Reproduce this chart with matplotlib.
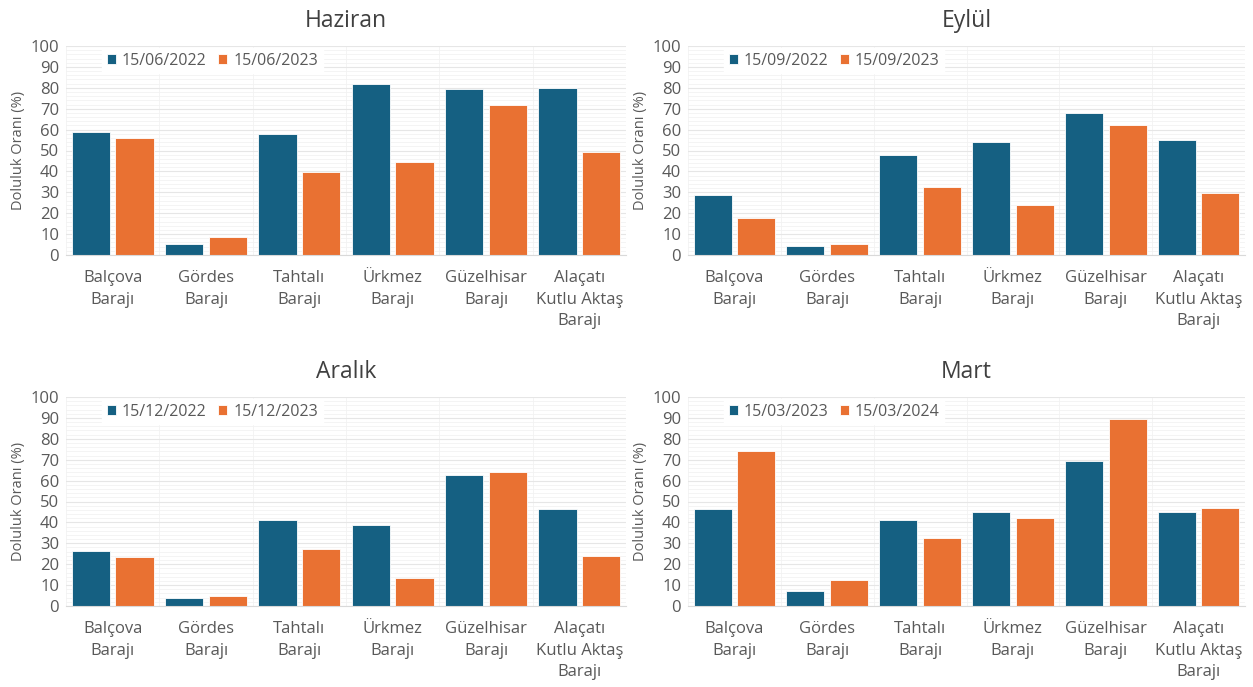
import numpy as np
import matplotlib
matplotlib.use("Agg")
import matplotlib.pyplot as plt
from matplotlib.ticker import MultipleLocator

plt.rcParams['font.family'] = ['Open Sans', 'DejaVu Sans']

# baraj isimleri
barajlar = ["Balçova\nBarajı", "Gördes\nBarajı", "Tahtalı\nBarajı",
            "Ürkmez\nBarajı", "Güzelhisar\nBarajı", "Alaçatı\nKutlu Aktaş\nBarajı"]

# doluluk oranlari (%)
haziran_2022 = [58.9, 5.3, 58.0, 81.8, 79.4, 80.0]
haziran_2023 = [56.0, 8.6, 39.7, 44.5, 71.8, 49.3]
eylul_2022 = [28.7, 4.3, 47.8, 54.0, 68.0, 55.0]
eylul_2023 = [17.7, 5.3, 32.5, 24.0, 62.2, 29.7]
aralik_2022 = [26.3, 3.8, 41.1, 38.8, 62.7, 46.4]
aralik_2023 = [23.4, 4.8, 27.3, 13.4, 64.1, 23.9]
mart_2023 = [46.4, 7.2, 41.1, 45.0, 69.4, 45.0]
mart_2024 = [74.2, 12.4, 32.5, 42.0, 89.5, 46.9]

basliklar = ["Haziran", "Eylül", "Aralık", "Mart"]
etiketler = [("15/06/2022", "15/06/2023"), ("15/09/2022", "15/09/2023"),
             ("15/12/2022", "15/12/2023"), ("15/03/2023", "15/03/2024")]
veriler = [(haziran_2022, haziran_2023), (eylul_2022, eylul_2023),
           (aralik_2022, aralik_2023), (mart_2023, mart_2024)]

mavi = "#156082"
turuncu = "#E97132"
gri = "#595959"

fig = plt.figure(figsize=(12.53, 6.87), dpi=100)
W, H = 1253, 687
# eksen konumlari (piksel): sol, ust, sag, alt
kutular = [(66, 46, 626, 255), (688, 46, 1245, 255),
           (66, 397, 626, 606), (688, 397, 1245, 606)]

x = np.arange(len(barajlar))
bw = 0.41
for (l, t, r, b), baslik, (e1, e2), (v1, v2) in zip(kutular, basliklar, etiketler, veriler):
    ax = fig.add_axes([l / W, 1 - b / H, (r - l) / W, (b - t) / H])
    ax.set_xlim(-0.5, len(barajlar) - 0.5)
    ax.set_ylim(0, 100)
    ax.yaxis.set_major_locator(MultipleLocator(10))
    ax.yaxis.set_minor_locator(MultipleLocator(2))
    ax.set_xticks(x)
    ax.set_xticks(np.arange(-0.5, len(barajlar), 0.5), minor=True)
    ax.grid(True, which='major', axis='y', color='#e6e6e6', lw=0.8)
    ax.grid(True, which='minor', axis='y', color='#f2f2f2', lw=0.6)
    ax.grid(True, which='minor', axis='x', color='#f2f2f2', lw=0.6)
    ax.set_axisbelow(True)
    ax.bar(x - 0.235, v1, bw, color=mavi, label=e1, edgecolor='white', lw=0.6)
    ax.bar(x + 0.235, v2, bw, color=turuncu, label=e2, edgecolor='white', lw=0.6)
    ax.set_xticklabels(barajlar, fontsize=12, color=gri, linespacing=1.45)
    ax.tick_params(axis='y', labelsize=12, labelcolor=gri, length=0, pad=5, which='both')
    ax.tick_params(axis='x', length=0, pad=11, which='both')
    for s in ['top', 'right', 'left']:
        ax.spines[s].set_visible(False)
    ax.spines['bottom'].set_color('#d9d9d9')
    ax.set_ylabel("Doluluk Oranı (%)", fontsize=10.5, color=gri, labelpad=3)
    ax.set_title(baslik, fontsize=16.5, color='#404040', pad=14)
    leg = ax.legend(loc='upper left', bbox_to_anchor=(0.05, 1.03), ncol=2, frameon=True,
                    fontsize=11.5, handlelength=0.6, handleheight=0.6, handletextpad=0.35,
                    columnspacing=0.7, borderpad=0.3, fancybox=False)
    leg.get_frame().set_edgecolor('white')
    leg.get_frame().set_facecolor('white')
    leg.get_frame().set_alpha(1)
    for txt in leg.get_texts():
        txt.set_color(gri)

fig.savefig("out.png", dpi=100)
